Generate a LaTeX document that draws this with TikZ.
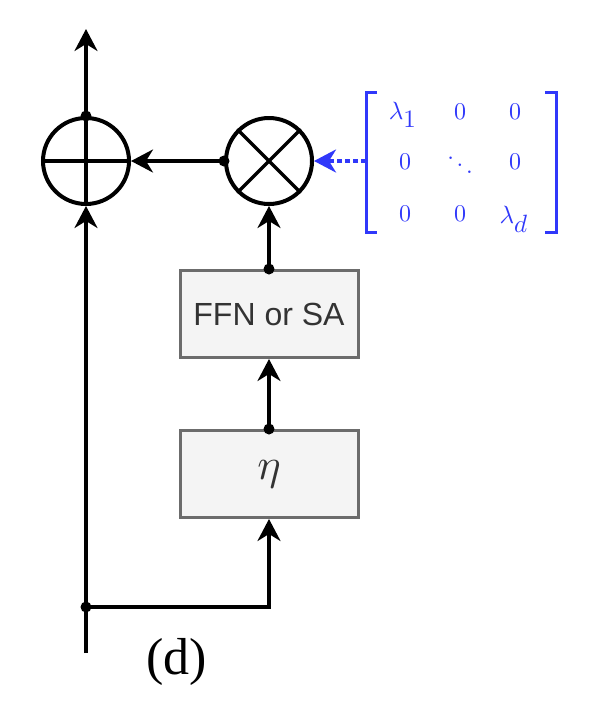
\documentclass[tikz,border=0pt]{standalone}
\usepackage{amsmath}
\usepackage{fontspec}
\newfontfamily\blocksans{Liberation Sans}
\newfontfamily\capserif{Liberation Serif}
\usetikzlibrary{arrows.meta}
\definecolor{scaleblue}{RGB}{48,56,250}
\definecolor{boxfill}{RGB}{244,244,244}
\definecolor{boxedge}{RGB}{108,108,108}
\definecolor{boxtext}{RGB}{51,51,51}
\newcommand{\bigmath}[2]{\scalebox{#1}{$#2$}}
\begin{document}
\begin{tikzpicture}[x=1pt,y=-1pt,
  tip/.style={-{Stealth[length=22pt,width=23pt,inset=7pt]}},
  wire/.style={line width=3.3pt, tip},
  opcircle/.style={circle, draw, line width=4pt, minimum size=86pt, inner sep=0pt, outer sep=2pt},
  block/.style={draw=boxedge, fill=boxfill, line width=3pt, minimum width=178pt, minimum height=87pt, inner sep=0pt, text=boxtext},
  scalearrow/.style={draw=scaleblue, line width=3.5pt, dash pattern=on 5pt off 3pt,
    -{Stealth[length=22pt,width=23pt,inset=7pt,sep=0pt]}},
  entry/.style={text=scaleblue, inner sep=0pt},
  joint/.style={fill=black}]
\useasboundingbox (0,0) rectangle (610,724);

% operator circles
\node[opcircle] (add) at (86,161) {};
\node[opcircle] (mul) at (269,161) {};
\draw[line width=3.3pt] (add.west) -- (add.east) (add.north) -- (add.south);
\draw[line width=3.3pt] (mul.north west) -- (mul.south east) (mul.north east) -- (mul.south west);

% sub-layer blocks
\node[block, font=\blocksans\fontsize{32}{36}\selectfont] (ffn) at (269,314) {FFN or SA};
\node[block] (eta) at (269,474) {\bigmath{4.4}{\eta}};

% free ends of the residual path
\coordinate (out) at (86,29);
\coordinate (in) at (86,653);
\coordinate (split) at (86,607);

% connectors
\draw[wire] (add.north) -- (out);
\draw[wire] (mul.west) -- (add.east);
\draw[wire] (ffn.north) -- (mul.south);
\draw[wire] (eta.north) -- (ffn.south);
\draw[line width=3.3pt] (in) -- (split);
\draw[wire] (split) -- (add.south);
\draw[wire] (split) -| (eta.south);

% junction dots
\fill[joint] (add.north) circle (5.5pt);
\fill[joint] (mul.west) circle (5.5pt);
\fill[joint] (ffn.north) circle (5.5pt);
\fill[joint] (eta.north) circle (5.5pt);
\fill[joint] (split) circle (5.5pt);

% diagonal scaling matrix
\draw[scaleblue, line width=3pt] (377,92) -- (366,92) -- (366,232) -- (377,232);
\draw[scaleblue, line width=3pt] (545,92) -- (556,92) -- (556,232) -- (545,232);
\coordinate (matleft) at (366,161);
\node[entry] (m11) at (403,115) {\bigmath{2.5}{\lambda_{\textstyle 1}}};
\node[entry] (m12) at (460,112) {\bigmath{2.4}{0}};
\node[entry] (m13) at (515,112) {\bigmath{2.4}{0}};
\node[entry] (m21) at (405,162) {\bigmath{2.4}{0}};
\node[entry] (m22) at (460,158) {\bigmath{2.4}{\ddots}};
\node[entry] (m23) at (515,162) {\bigmath{2.4}{0}};
\node[entry] (m31) at (405,214) {\bigmath{2.4}{0}};
\node[entry] (m32) at (460,214) {\bigmath{2.4}{0}};
\node[entry] (m33) at (514,219) {\bigmath{2.5}{\lambda_{\textstyle d}}};
\draw[scalearrow] (matleft) -- (mul.east);

% caption
\node[font=\capserif\fontsize{52}{60}\selectfont] (cap) at (177,662) {(d)};
\end{tikzpicture}
\end{document}
